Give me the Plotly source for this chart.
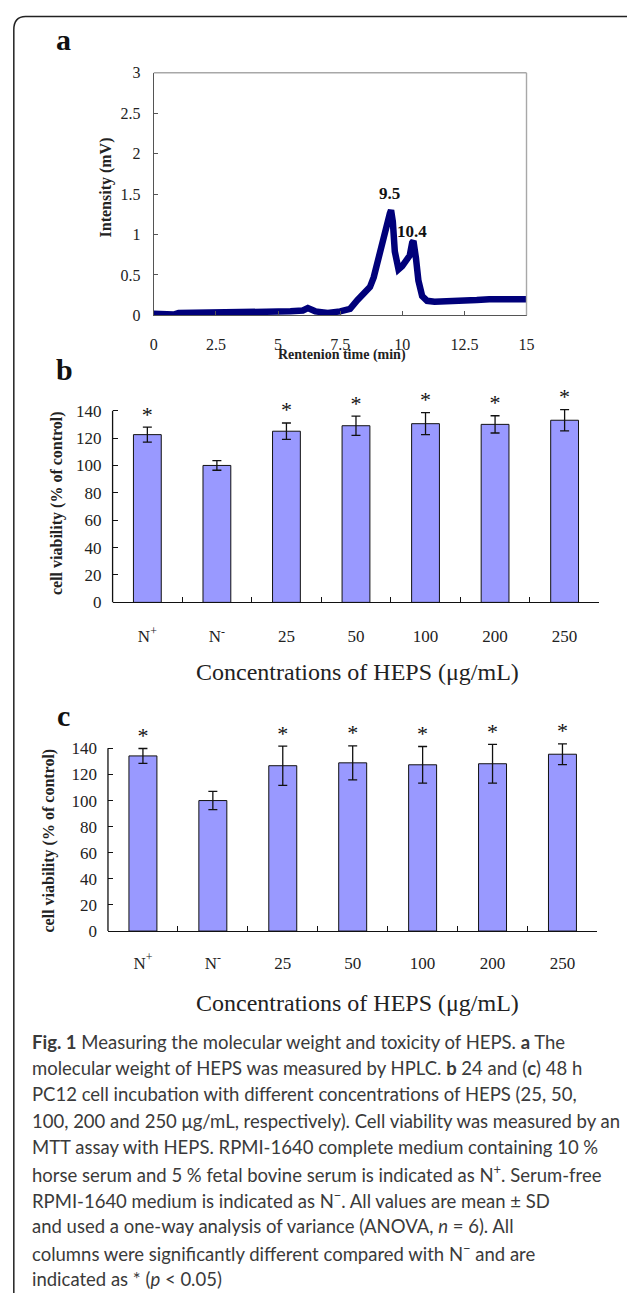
import plotly.graph_objects as go

# ---------------- data ----------------
# Panel a: HPLC chromatogram
hplc_time = [0.0, 0.4, 0.8, 1.0, 1.5, 2.5, 3.0, 4.0, 5.0, 5.5, 6.0, 6.2, 6.5, 7.0, 7.5, 7.9,
             8.2, 8.5, 8.7, 8.85, 9.0, 9.2, 9.35, 9.5, 9.55, 9.62, 9.7, 9.85, 10.0, 10.15,
             10.3, 10.4, 10.45, 10.55, 10.65, 10.8, 11.0, 11.3, 12.0, 12.5, 13.0, 13.5, 14.0, 14.5, 15.0]
hplc_intensity = [0.02, 0.01, 0.01, 0.03, 0.03, 0.04, 0.04, 0.05, 0.05, 0.05, 0.06, 0.09, 0.05, 0.03, 0.05, 0.08,
                  0.19, 0.30, 0.35, 0.47, 0.67, 0.92, 1.08, 1.26, 1.30, 1.16, 0.79, 0.57, 0.61, 0.69,
                  0.74, 0.90, 0.92, 0.71, 0.43, 0.24, 0.18, 0.17, 0.17, 0.19, 0.19, 0.20, 0.20, 0.20, 0.20]
peak_times = [9.5, 10.4]
peak_labels = ["9.5", "10.4"]
peak_label_y = [1.51, 1.04]
a_xticks = [0, 2.5, 5, 7.5, 10, 12.5, 15]
a_yticks = [0, 0.5, 1, 1.5, 2, 2.5, 3]

# Panels b and c: cell viability
categories = ["N<sup>+</sup>", "N<sup>-</sup>", "25", "50", "100", "200", "250"]
viab_24h = [122.5, 100, 125, 129, 130.5, 130, 133]
sd_24h = [5.5, 3.5, 6, 7, 8, 6.3, 7.8]
viab_48h = [134.2, 100, 126.7, 128.9, 127.4, 128.2, 135.5]
sd_48h = [5.7, 7, 15, 13, 14, 14.8, 8]
significant = [True, False, True, True, True, True, True]
bc_yticks = [0, 20, 40, 60, 80, 100, 120, 140]

# ---------------- layout helpers ----------------
W, H = 627, 1305
SERIF = "Liberation Serif"
SANS = "Lato"


def px_x(x):
    return x / W


def px_y(y):
    return 1 - y / H


fig = go.Figure()

# Panel a
fig.add_trace(go.Scatter(x=hplc_time, y=hplc_intensity, mode="lines",
                         line=dict(color="#00007a", width=6.5, shape="linear"),
                         xaxis="x", yaxis="y", showlegend=False, hoverinfo="skip"))

bar_color = "#9999ff"
for (vals, sds, xa, ya) in [(viab_24h, sd_24h, "x2", "y2"), (viab_48h, sd_48h, "x3", "y3")]:
    fig.add_trace(go.Bar(x=categories, y=vals, width=0.4,
                         marker=dict(color=bar_color, line=dict(color="#111111", width=1)),
                         error_y=dict(type="data", array=sds, visible=True, color="#111111",
                                      thickness=1.3, width=4.5),
                         xaxis=xa, yaxis=ya, showlegend=False, hoverinfo="skip"))
    # significance stars
    star_x = [c for c, s in zip(categories, significant) if s]
    star_y = [v + s for v, s, g in zip(vals, sds, significant) if g]
    fig.add_trace(go.Scatter(x=star_x, y=star_y, mode="text", text=["*"] * len(star_x),
                             textposition="top center",
                             textfont=dict(family=SERIF, size=22, color="#111111"),
                             xaxis=xa, yaxis=ya, showlegend=False, hoverinfo="skip"))

axis_font_a = dict(family=SERIF, size=16, color="#222222")
axis_font_bc = dict(family=SERIF, size=17, color="#222222")
n_cat = len(categories)

# bar panels: axis line drawn only up to 140, range extended so stars/error bars fit
YMAX_BC = 160
b_bottom, b_top140 = 602.7, 408.3
c_bottom, c_top140 = 936.0, 750.7
b_top = b_bottom - YMAX_BC * (b_bottom - b_top140) / 140
c_top = c_bottom - YMAX_BC * (c_bottom - c_top140) / 140

common_bc_y = dict(range=[0, YMAX_BC], tickvals=bc_yticks, ticktext=[str(v) for v in bc_yticks],
                   showline=False, ticks="inside", ticklen=5, tickcolor="#111111", tickwidth=1.2,
                   showgrid=False, zeroline=False, tickfont=axis_font_bc, ticklabelstandoff=10)
common_bc_x = dict(type="category", range=[-0.5, n_cat - 0.5],
                   showline=True, linecolor="#111111", linewidth=1.3,
                   ticks="inside", ticklen=5, tickcolor="#111111", tickwidth=1.2, tickson="boundaries",
                   showgrid=False, zeroline=False, tickfont=axis_font_bc)

fig.update_layout(
    width=W, height=H,
    margin=dict(l=0, r=0, t=0, b=0),
    paper_bgcolor="white", plot_bgcolor="white",
    xaxis=dict(domain=[px_x(152.7), px_x(532.7)], anchor="y", range=[0, 15],
               tickvals=a_xticks, ticktext=[str(v) for v in a_xticks],
               showline=True, linecolor="#555555", linewidth=1.2,
               ticks="inside", ticklen=4, tickcolor="#555555",
               showgrid=False, zeroline=False, tickfont=axis_font_a, ticklabelstandoff=14),
    yaxis=dict(domain=[px_y(311.7), px_y(65.7)], anchor="x", range=[0, 3],
               tickvals=a_yticks, ticktext=[("%g" % v) for v in a_yticks],
               showline=True, linecolor="#555555", linewidth=1.2,
               ticks="inside", ticklen=4, tickcolor="#555555",
               showgrid=False, zeroline=False, tickfont=axis_font_a, ticklabelstandoff=9),
    xaxis2=dict(domain=[px_x(110.7), px_x(607)], anchor="y2", ticklabelstandoff=18, **common_bc_x),
    yaxis2=dict(domain=[px_y(b_bottom), px_y(b_top)], anchor="x2", **common_bc_y),
    xaxis3=dict(domain=[px_x(106), px_x(605)], anchor="y3", ticklabelstandoff=16, **common_bc_x),
    yaxis3=dict(domain=[px_y(c_bottom), px_y(c_top)], anchor="x3", **common_bc_y),
)

annotations = []
shapes = []

# Outer rounded frame
frame_path = "M {x0},{yb} L {x0},{yc} Q {x0},{yt} {xc},{yt} L {xr},{yt}".format(
    x0=px_x(10), yb=px_y(1303), yc=px_y(22), yt=px_y(8.5), xc=px_x(22), xr=px_x(640))
shapes.append(dict(type="path", xref="paper", yref="paper", path=frame_path,
                   line=dict(color="#222222", width=1.5)))

# Panel a box (top and right, lighter)
shapes.append(dict(type="line", xref="x domain", yref="y domain", x0=0, x1=1, y0=1, y1=1,
                   line=dict(color="#a8a8a8", width=1.4)))
shapes.append(dict(type="line", xref="x domain", yref="y domain", x0=1, x1=1, y0=0, y1=1,
                   line=dict(color="#a8a8a8", width=1.4)))

# Bar panels: y axis line from 0 to top tick
for xa, ya in [("x2", "y2"), ("x3", "y3")]:
    shapes.append(dict(type="line", xref=xa + " domain", yref=ya, x0=0, x1=0,
                       y0=0, y1=bc_yticks[-1], line=dict(color="#111111", width=1.3)))

# Panel letters
for letter, (lx, ly) in zip(["a", "b", "c"], [(61, 32), (62, 367), (61, 717)]):
    annotations.append(dict(text="<b>%s</b>" % letter, x=px_x(lx), y=px_y(ly), xref="paper", yref="paper",
                            showarrow=False, xanchor="center", yanchor="middle",
                            font=dict(family=SERIF, size=30, color="#111111")))

# Panel a labels
for t, lab, ly in zip(peak_times, peak_labels, peak_label_y):
    annotations.append(dict(text="<b>%s</b>" % lab, x=t, y=ly, xref="x", yref="y", showarrow=False,
                            xanchor="center", yanchor="middle",
                            font=dict(family=SERIF, size=17, color="#111111")))
annotations.append(dict(text="<b>Intensity (mV)</b>", x=px_x(104), y=px_y(182), xref="paper", yref="paper",
                        showarrow=False, textangle=-90, xanchor="center", yanchor="middle",
                        font=dict(family=SERIF, size=16, color="#222222")))
annotations.append(dict(text="<b>Rentenion time (min)</b>", x=px_x(345), y=px_y(352), xref="paper", yref="paper",
                        showarrow=False, xanchor="center", yanchor="middle",
                        font=dict(family=SERIF, size=14, color="#222222")))

# Panels b and c axis titles
for (ytitle_x, ytitle_y, xtitle_y) in [(54, 502, 673), (46, 844, 1009)]:
    annotations.append(dict(text="<b>cell viability (% of control)</b>", x=px_x(ytitle_x), y=px_y(ytitle_y),
                            xref="paper", yref="paper", showarrow=False, textangle=-90,
                            xanchor="center", yanchor="middle",
                            font=dict(family=SERIF, size=16, color="#222222")))
    annotations.append(dict(text="Concentrations of HEPS (μg/mL)", x=px_x(360), y=px_y(xtitle_y),
                            xref="paper", yref="paper", showarrow=False, xanchor="center", yanchor="middle",
                            font=dict(family=SERIF, size=24, color="#222222")))

# Caption
caption_lines = [
    "<b>Fig. 1</b> Measuring the molecular weight and toxicity of HEPS. <b>a</b> The",
    "molecular weight of HEPS was measured by HPLC. <b>b</b> 24 and (<b>c</b>) 48 h",
    "PC12 cell incubation with different concentrations of HEPS (25, 50,",
    "100, 200 and 250 μg/mL, respectively). Cell viability was measured by an",
    "MTT assay with HEPS. RPMI-1640 complete medium containing 10 %",
    "horse serum and 5 % fetal bovine serum is indicated as N<sup>+</sup>. Serum-free",
    "RPMI-1640 medium is indicated as N<sup>−</sup>. All values are mean ± SD",
    "and used a one-way analysis of variance (ANOVA, <i>n</i> = 6). All",
    "columns were significantly different compared with N<sup>−</sup> and are",
    "indicated as * (<i>p</i> &lt; 0.05)",
]
for i, line in enumerate(caption_lines):
    annotations.append(dict(text=line, x=px_x(26), y=px_y(1048.3 + i * 26.67), xref="paper", yref="paper",
                            showarrow=False, xanchor="left", yanchor="middle", align="left",
                            font=dict(family=SANS, size=18.5, color="#3a3a3a")))

fig.update_layout(annotations=annotations, shapes=shapes)

fig.write_html("out.html", config={"displayModeBar": False},
               post_script="document.body.style.margin='0';document.body.style.overflow='hidden';")
